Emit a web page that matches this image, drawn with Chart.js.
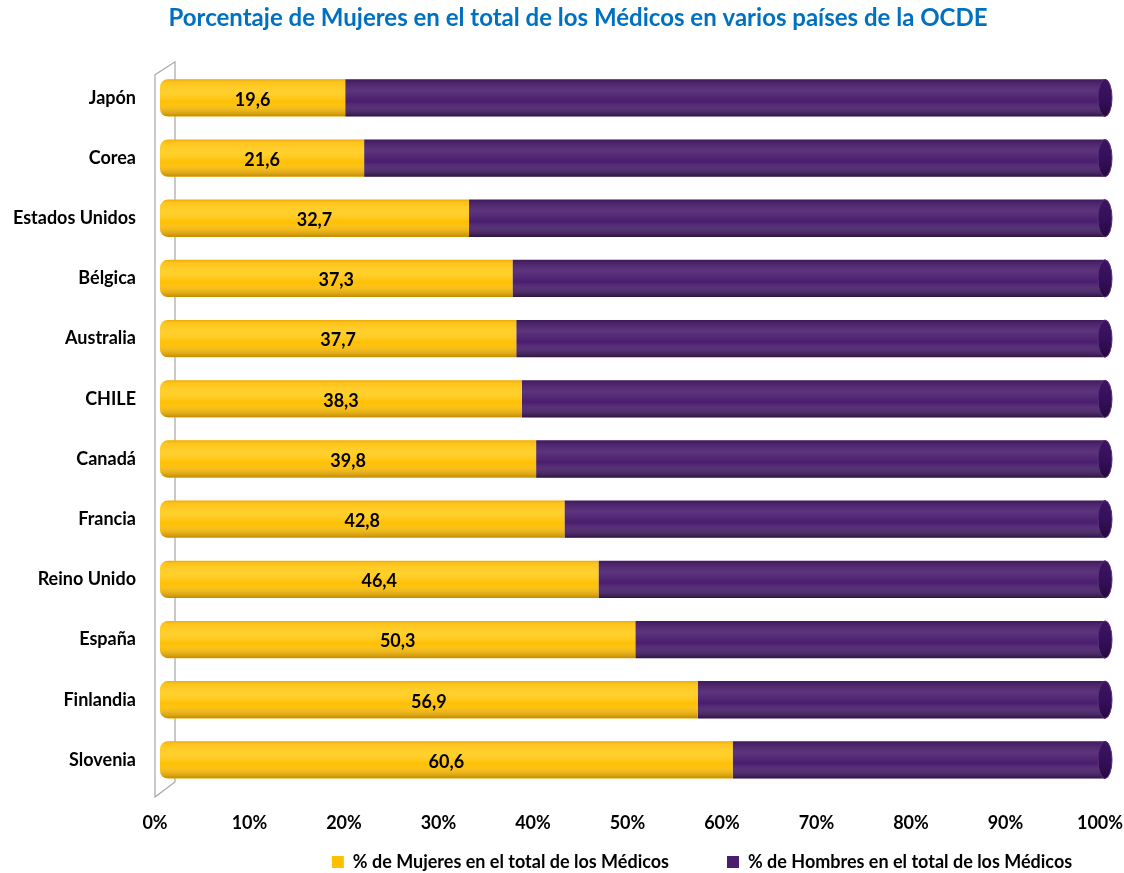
<!DOCTYPE html>
<html><head><meta charset="utf-8">
<script src="https://cdn.jsdelivr.net/npm/chart.js@4"></script>
<style>html,body{margin:0;padding:0;background:#fff}#wrap{width:1124px;height:873px;position:relative}</style>
</head><body><div id="wrap"><canvas id="c" width="1124" height="873"></canvas></div>
<script>
const categories = ['Japón','Corea','Estados Unidos','Bélgica','Australia','CHILE','Canadá','Francia','Reino Unido','España','Finlandia','Slovenia'];
const mujeres = [19.6,21.6,32.7,37.3,37.7,38.3,39.8,42.8,46.4,50.3,56.9,60.6];
const hombres = [80.4,78.4,67.3,62.7,62.3,61.7,60.2,57.2,53.6,49.7,43.1,39.4];
const xTickLabels = ['0%','10%','20%','30%','40%','50%','60%','70%','80%','90%','100%'];
const seriesNames = ['% de Mujeres en el total de los Médicos','% de Hombres en el total de los Médicos'];
const titleText = 'Porcentaje de Mujeres en el total de los Médicos en varios países de la OCDE';

const FONT = 'Lato, "Open Sans", sans-serif';
const YELLOW = '#FFC000', PURPLE = '#4A1D6E';
const LEGEND_PAD = 58;

const decoPlugin = {
  id: 'deco',
  beforeLayout(chart) {
    const l = chart.legend;
    if (l && !l._patched) {
      const orig = l.fit.bind(l);
      l.fit = function () { orig(); this.height = 38; };
      l._patched = true;
    }
  },
  afterLayout(chart) {
    const l = chart.legend;
    if (l) {
      l.left += 140; l.right += 140;
      l.top = 862 - LEGEND_PAD - 9; l.bottom = 873; l.height = l.bottom - l.top;
    }
    const t = chart.titleBlock;
    if (t) { t.left += 16; t.right += 16; }
  },
  beforeDatasetsDraw(chart) {
    const {ctx, chartArea: a} = chart;
    ctx.save();
    ctx.strokeStyle = '#a6a6a6'; ctx.lineWidth = 1.2;
    ctx.beginPath();
    ctx.moveTo(a.left - 5, a.top + 7);
    ctx.lineTo(a.left + 15, a.top - 6);
    ctx.lineTo(a.left + 15, a.bottom - 8);
    ctx.lineTo(a.left - 5, a.bottom + 7);
    ctx.closePath();
    ctx.stroke();
    ctx.restore();
  },
  afterDatasetsDraw(chart) {
    const ctx = chart.ctx;
    chart.data.datasets.forEach((ds, di) => {
      const meta = chart.getDatasetMeta(di);
      meta.data.forEach((el, i) => {
        const p = el.getProps(['x','y','base','height'], true);
        const left = Math.min(p.base, p.x), right = Math.max(p.base, p.x);
        const top = p.y - p.height/2, h = p.height;
        ctx.save();
        ctx.beginPath();
        if (di === 0) ctx.roundRect(left, top, right-left, h, [8,0,0,8]);
        else ctx.rect(left, top, right-left, h);
        ctx.clip();
        const g = ctx.createLinearGradient(0, top, 0, top + h);
        if (di === 0) {
          g.addColorStop(0, 'rgba(200,120,0,0.35)');
          g.addColorStop(0.12, 'rgba(255,255,255,0.10)');
          g.addColorStop(0.35, 'rgba(255,240,120,0.35)');
          g.addColorStop(0.6, 'rgba(255,255,255,0.0)');
          g.addColorStop(1, 'rgba(120,70,0,0.45)');
        } else {
          g.addColorStop(0, 'rgba(0,0,0,0.15)');
          g.addColorStop(0.3, 'rgba(255,255,255,0.10)');
          g.addColorStop(0.6, 'rgba(255,255,255,0.0)');
          g.addColorStop(1, 'rgba(0,0,0,0.40)');
        }
        ctx.fillStyle = g;
        ctx.fillRect(left, top, right-left, h);
        ctx.restore();
        if (di === 1) {
          ctx.save();
          const g2 = ctx.createLinearGradient(0, top, 0, top + h);
          g2.addColorStop(0, '#3c1560');
          g2.addColorStop(0.5, '#35105a');
          g2.addColorStop(1, '#26093f');
          ctx.fillStyle = g2;
          ctx.strokeStyle = '#5b2d80';
          ctx.lineWidth = 1;
          ctx.beginPath();
          ctx.ellipse(right, p.y, 7, h/2, 0, 0, Math.PI*2);
          ctx.fill();
          ctx.stroke();
          ctx.restore();
        }
        if (di === 0) {
          ctx.save();
          ctx.fillStyle = '#000';
          ctx.font = 'bold 18px ' + FONT;
          ctx.textAlign = 'center';
          ctx.textBaseline = 'middle';
          ctx.fillText(ds.data[i].toFixed(1).replace('.', ','), (left + right)/2, p.y + 2);
          ctx.restore();
        }
      });
    });
  }
};

new Chart(document.getElementById('c'), {
  type: 'bar',
  data: {
    labels: categories,
    datasets: [
      { label: seriesNames[0], data: mujeres, backgroundColor: YELLOW, borderWidth: 0,
        borderSkipped: false, borderRadius: {topLeft: 8, bottomLeft: 8, topRight: 0, bottomRight: 0},
        barPercentage: 0.62, categoryPercentage: 1 },
      { label: seriesNames[1], data: hombres, backgroundColor: PURPLE, borderWidth: 0,
        barPercentage: 0.62, categoryPercentage: 1 }
    ]
  },
  options: {
    indexAxis: 'y',
    responsive: false,
    devicePixelRatio: 1,
    animation: false,
    layout: { padding: { left: 0, right: 0, top: 0, bottom: 0 } },
    scales: {
      x: {
        stacked: true, min: 0, max: 100,
        grid: { display: false, drawTicks: false }, border: { display: false },
        ticks: { stepSize: 10, padding: 22, labelOffset: -5, color: '#000',
          font: { family: FONT, size: 18, weight: 'bold' },
          callback: (v) => xTickLabels[Math.round(v/10)] },
        afterFit: (s) => { s.height = 45; s.paddingRight = 19; s.paddingLeft = 0; }
      },
      y: {
        stacked: true,
        grid: { display: false, drawTicks: false }, border: { display: false },
        ticks: { padding: 24, color: '#000', font: { family: FONT, size: 18, weight: 'bold' } },
        afterFit: (s) => { s.width = 160; }
      }
    },
    plugins: {
      title: { display: true, text: titleText, color: '#0070C0',
        font: { family: FONT, size: 24, weight: 'bold' }, padding: { top: 4, bottom: 35 } },
      legend: { position: 'bottom',
        labels: { boxWidth: 12, boxHeight: 12, padding: LEGEND_PAD, color: '#000',
          font: { family: FONT, size: 18, weight: 'bold' } } },
      tooltip: { enabled: false }
    }
  },
  plugins: [decoPlugin]
});
</script></body></html>
